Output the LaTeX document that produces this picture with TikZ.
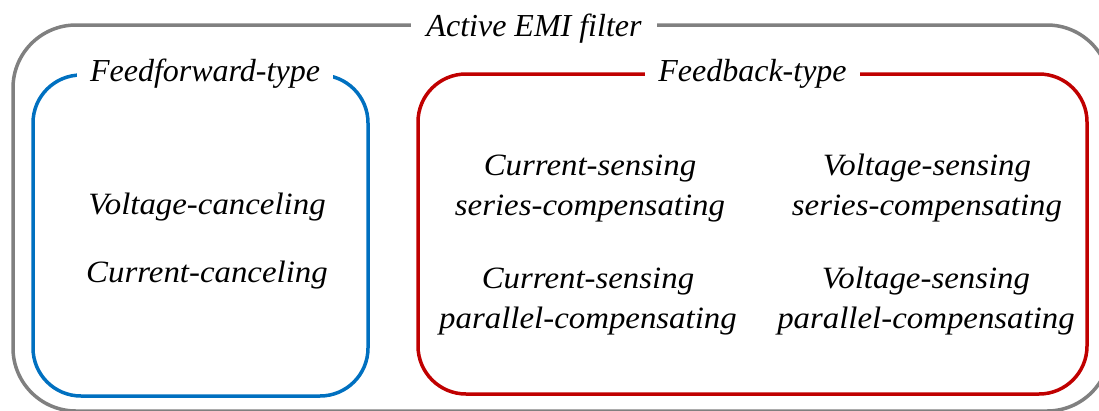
\documentclass[tikz,border=0pt]{standalone}
\usepackage{fontspec}
\setmainfont{Liberation Serif}
\newfontfamily\bodyfont[FakeStretch=1.06]{Liberation Serif}
\definecolor{boxgray}{RGB}{128,128,128}
\definecolor{boxblue}{RGB}{0,112,192}
\definecolor{boxred}{RGB}{192,0,0}
\begin{document}
\begin{tikzpicture}[x=1pt,y=-1pt,
  frame/.style={draw=#1, line width=3.5pt, rectangle, outer sep=0pt, inner sep=0pt},
  title/.style={fill=white, anchor=base, inner xsep=13pt, inner ysep=2pt,
    font=\fontsize{32}{38}\selectfont\itshape},
  item/.style={anchor=base, inner sep=0pt, font=\bodyfont\fontsize{31}{40}\selectfont\itshape}]
\useasboundingbox (0,0) rectangle (1099,410);
% frames
\node[frame=boxgray, rounded corners=63pt, minimum width=1097pt, minimum height=386pt] (outer) at (561.5,218) {};
\node[frame=boxblue, rounded corners=48pt, minimum width=335pt, minimum height=321pt] (ff) at (200.5,235.5) {};
\node[frame=boxred, rounded corners=48pt, minimum width=669pt, minimum height=320pt] (fb) at (752.5,234) {};
% titles
\node[title, inner xsep=15pt] (outert) at (534,36) {Active EMI filter};
\node[title] (fft) at (205,81) {Feedforward-type};
\node[title] (fbt) at (752.5,81) {Feedback-type};
% items
\node[item] (vc) at (207,214) {Voltage-canceling};
\node[item] (cc) at (207,282) {Current-canceling};
\node[item] (css) at (590,175) {\begin{tabular}[t]{@{}c@{}}Current-sensing\\series-compensating\end{tabular}};
\node[item] (vss) at (927,175) {\begin{tabular}[t]{@{}c@{}}Voltage-sensing\\series-compensating\end{tabular}};
\node[item] (csp) at (588,288) {\begin{tabular}[t]{@{}c@{}}Current-sensing\\parallel-compensating\end{tabular}};
\node[item] (vsp) at (926,288) {\begin{tabular}[t]{@{}c@{}}Voltage-sensing\\parallel-compensating\end{tabular}};
\end{tikzpicture}
\end{document}
